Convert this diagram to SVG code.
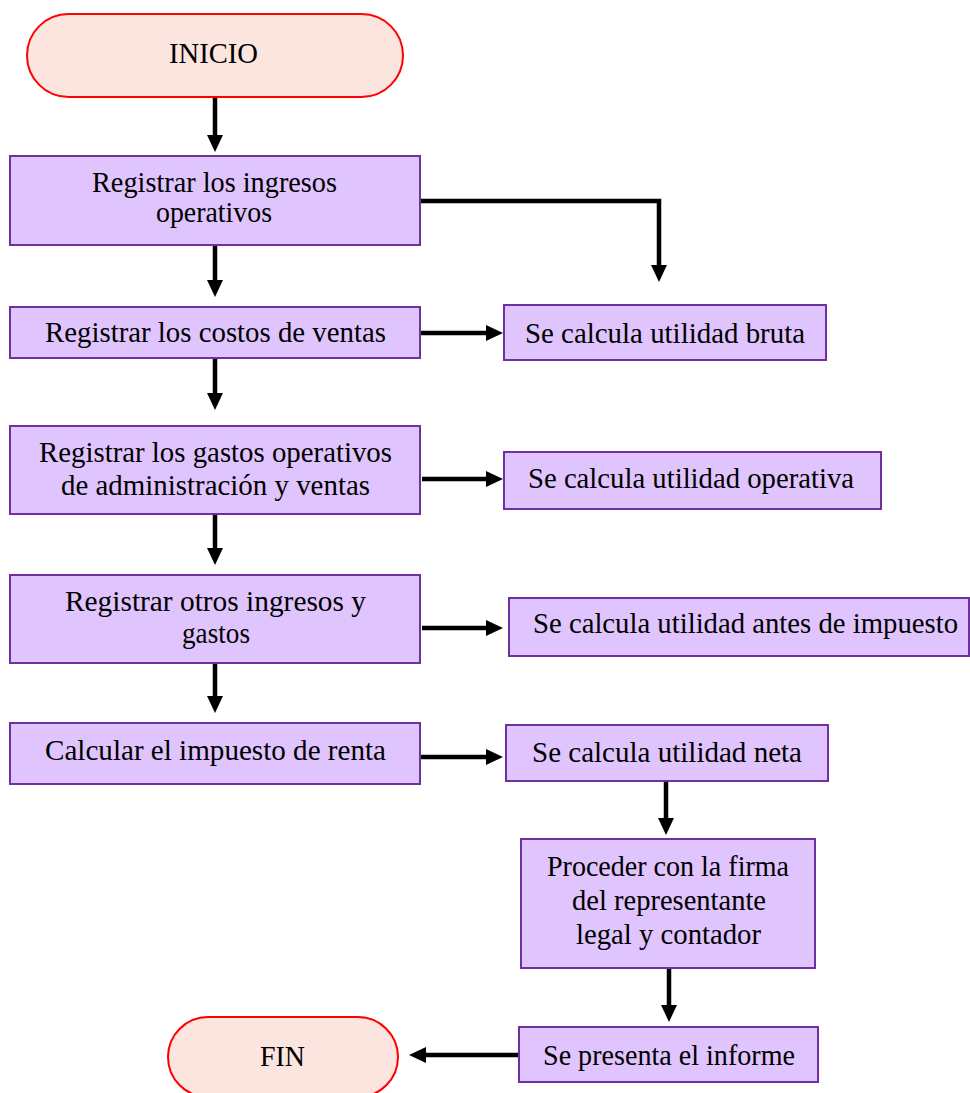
<svg xmlns="http://www.w3.org/2000/svg" width="970" height="1093" viewBox="0 0 970 1093">
<style>
.term{fill:#FCE4DF;stroke:#FF0000;stroke-width:2}
.box{fill:#E0C4FE;stroke:#7030A0;stroke-width:2}
.t{font-family:"Liberation Serif","Times New Roman",serif;font-size:29px;fill:#000}
.c{fill:none;stroke:#000;stroke-width:4.5}
</style>
<defs>
<marker id="ah" markerUnits="userSpaceOnUse" markerWidth="20" markerHeight="20" viewBox="0 -10 20 20" refX="1" refY="0" orient="auto" overflow="visible">
<path d="M0,-8 L17,0 L0,8 z" fill="#000"/>
</marker>
</defs>
<rect width="970" height="1093" fill="#fff"/>
<g id="connectors">
<line class="c" x1="215" y1="98" x2="215" y2="136" marker-end="url(#ah)"/>
<polyline class="c" points="420,201 659,201 659,266" marker-end="url(#ah)"/>
<line class="c" x1="215" y1="245" x2="215" y2="281" marker-end="url(#ah)"/>
<line class="c" x1="420" y1="333" x2="487" y2="333" marker-end="url(#ah)"/>
<line class="c" x1="215" y1="358" x2="215" y2="394" marker-end="url(#ah)"/>
<line class="c" x1="422" y1="479" x2="487" y2="479" marker-end="url(#ah)"/>
<line class="c" x1="215" y1="514" x2="215" y2="549" marker-end="url(#ah)"/>
<line class="c" x1="422" y1="628" x2="487" y2="628" marker-end="url(#ah)"/>
<line class="c" x1="215" y1="663" x2="215" y2="697" marker-end="url(#ah)"/>
<line class="c" x1="420" y1="757" x2="487" y2="757" marker-end="url(#ah)"/>
<line class="c" x1="666" y1="781" x2="666" y2="819" marker-end="url(#ah)"/>
<line class="c" x1="669" y1="968" x2="669" y2="1006" marker-end="url(#ah)"/>
<line class="c" x1="518" y1="1055" x2="425" y2="1055" marker-end="url(#ah)"/>
</g>
<g id="inicio">
<rect class="term" x="27" y="14" width="376" height="83" rx="41.5"/>
<text class="t" x="169" y="63" textLength="89" lengthAdjust="spacingAndGlyphs">INICIO</text>
</g>
<g id="ingresos">
<rect class="box" x="10" y="156" width="410" height="89"/>
<text class="t" x="92" y="192" textLength="245" lengthAdjust="spacingAndGlyphs">Registrar los ingresos</text>
<text class="t" x="156" y="222" textLength="116" lengthAdjust="spacingAndGlyphs">operativos</text>
</g>
<g id="costos">
<rect class="box" x="10" y="307" width="410" height="51"/>
<text class="t" x="45" y="342" textLength="341" lengthAdjust="spacingAndGlyphs">Registrar los costos de ventas</text>
</g>
<g id="gastos">
<rect class="box" x="10" y="426" width="410" height="88"/>
<text class="t" x="39" y="462" textLength="353" lengthAdjust="spacingAndGlyphs">Registrar los gastos operativos</text>
<text class="t" x="61" y="495" textLength="309" lengthAdjust="spacingAndGlyphs">de administración y ventas</text>
</g>
<g id="otros">
<rect class="box" x="10" y="575" width="410" height="88"/>
<text class="t" x="65" y="611" textLength="301" lengthAdjust="spacingAndGlyphs">Registrar otros ingresos y</text>
<text class="t" x="182" y="643" textLength="68" lengthAdjust="spacingAndGlyphs">gastos</text>
</g>
<g id="impuesto">
<rect class="box" x="10" y="723" width="410" height="61"/>
<text class="t" x="45" y="760" textLength="341" lengthAdjust="spacingAndGlyphs">Calcular el impuesto de renta</text>
</g>
<g id="bruta">
<rect class="box" x="504" y="305" width="322" height="55"/>
<text class="t" x="525" y="343" textLength="280" lengthAdjust="spacingAndGlyphs">Se calcula utilidad bruta</text>
</g>
<g id="operativa">
<rect class="box" x="504" y="452" width="377" height="57"/>
<text class="t" x="528" y="488" textLength="326" lengthAdjust="spacingAndGlyphs">Se calcula utilidad operativa</text>
</g>
<g id="antes">
<rect class="box" x="509" y="598" width="460" height="58"/>
<text class="t" x="533" y="633" textLength="425" lengthAdjust="spacingAndGlyphs">Se calcula utilidad antes de impuesto</text>
</g>
<g id="neta">
<rect class="box" x="506" y="725" width="322" height="56"/>
<text class="t" x="532" y="762" textLength="270" lengthAdjust="spacingAndGlyphs">Se calcula utilidad neta</text>
</g>
<g id="firma">
<rect class="box" x="521" y="839" width="294" height="129"/>
<text class="t" x="547" y="876" textLength="242" lengthAdjust="spacingAndGlyphs">Proceder con la firma</text>
<text class="t" x="572" y="910" textLength="194" lengthAdjust="spacingAndGlyphs">del representante</text>
<text class="t" x="576" y="944" textLength="185" lengthAdjust="spacingAndGlyphs">legal y contador</text>
</g>
<g id="informe">
<rect class="box" x="519" y="1027" width="299" height="55"/>
<text class="t" x="543" y="1065" textLength="252" lengthAdjust="spacingAndGlyphs">Se presenta el informe</text>
</g>
<g id="fin">
<rect class="term" x="168" y="1017" width="230" height="80" rx="40"/>
<text class="t" x="260" y="1066" textLength="45" lengthAdjust="spacingAndGlyphs">FIN</text>
</g>
</svg>
